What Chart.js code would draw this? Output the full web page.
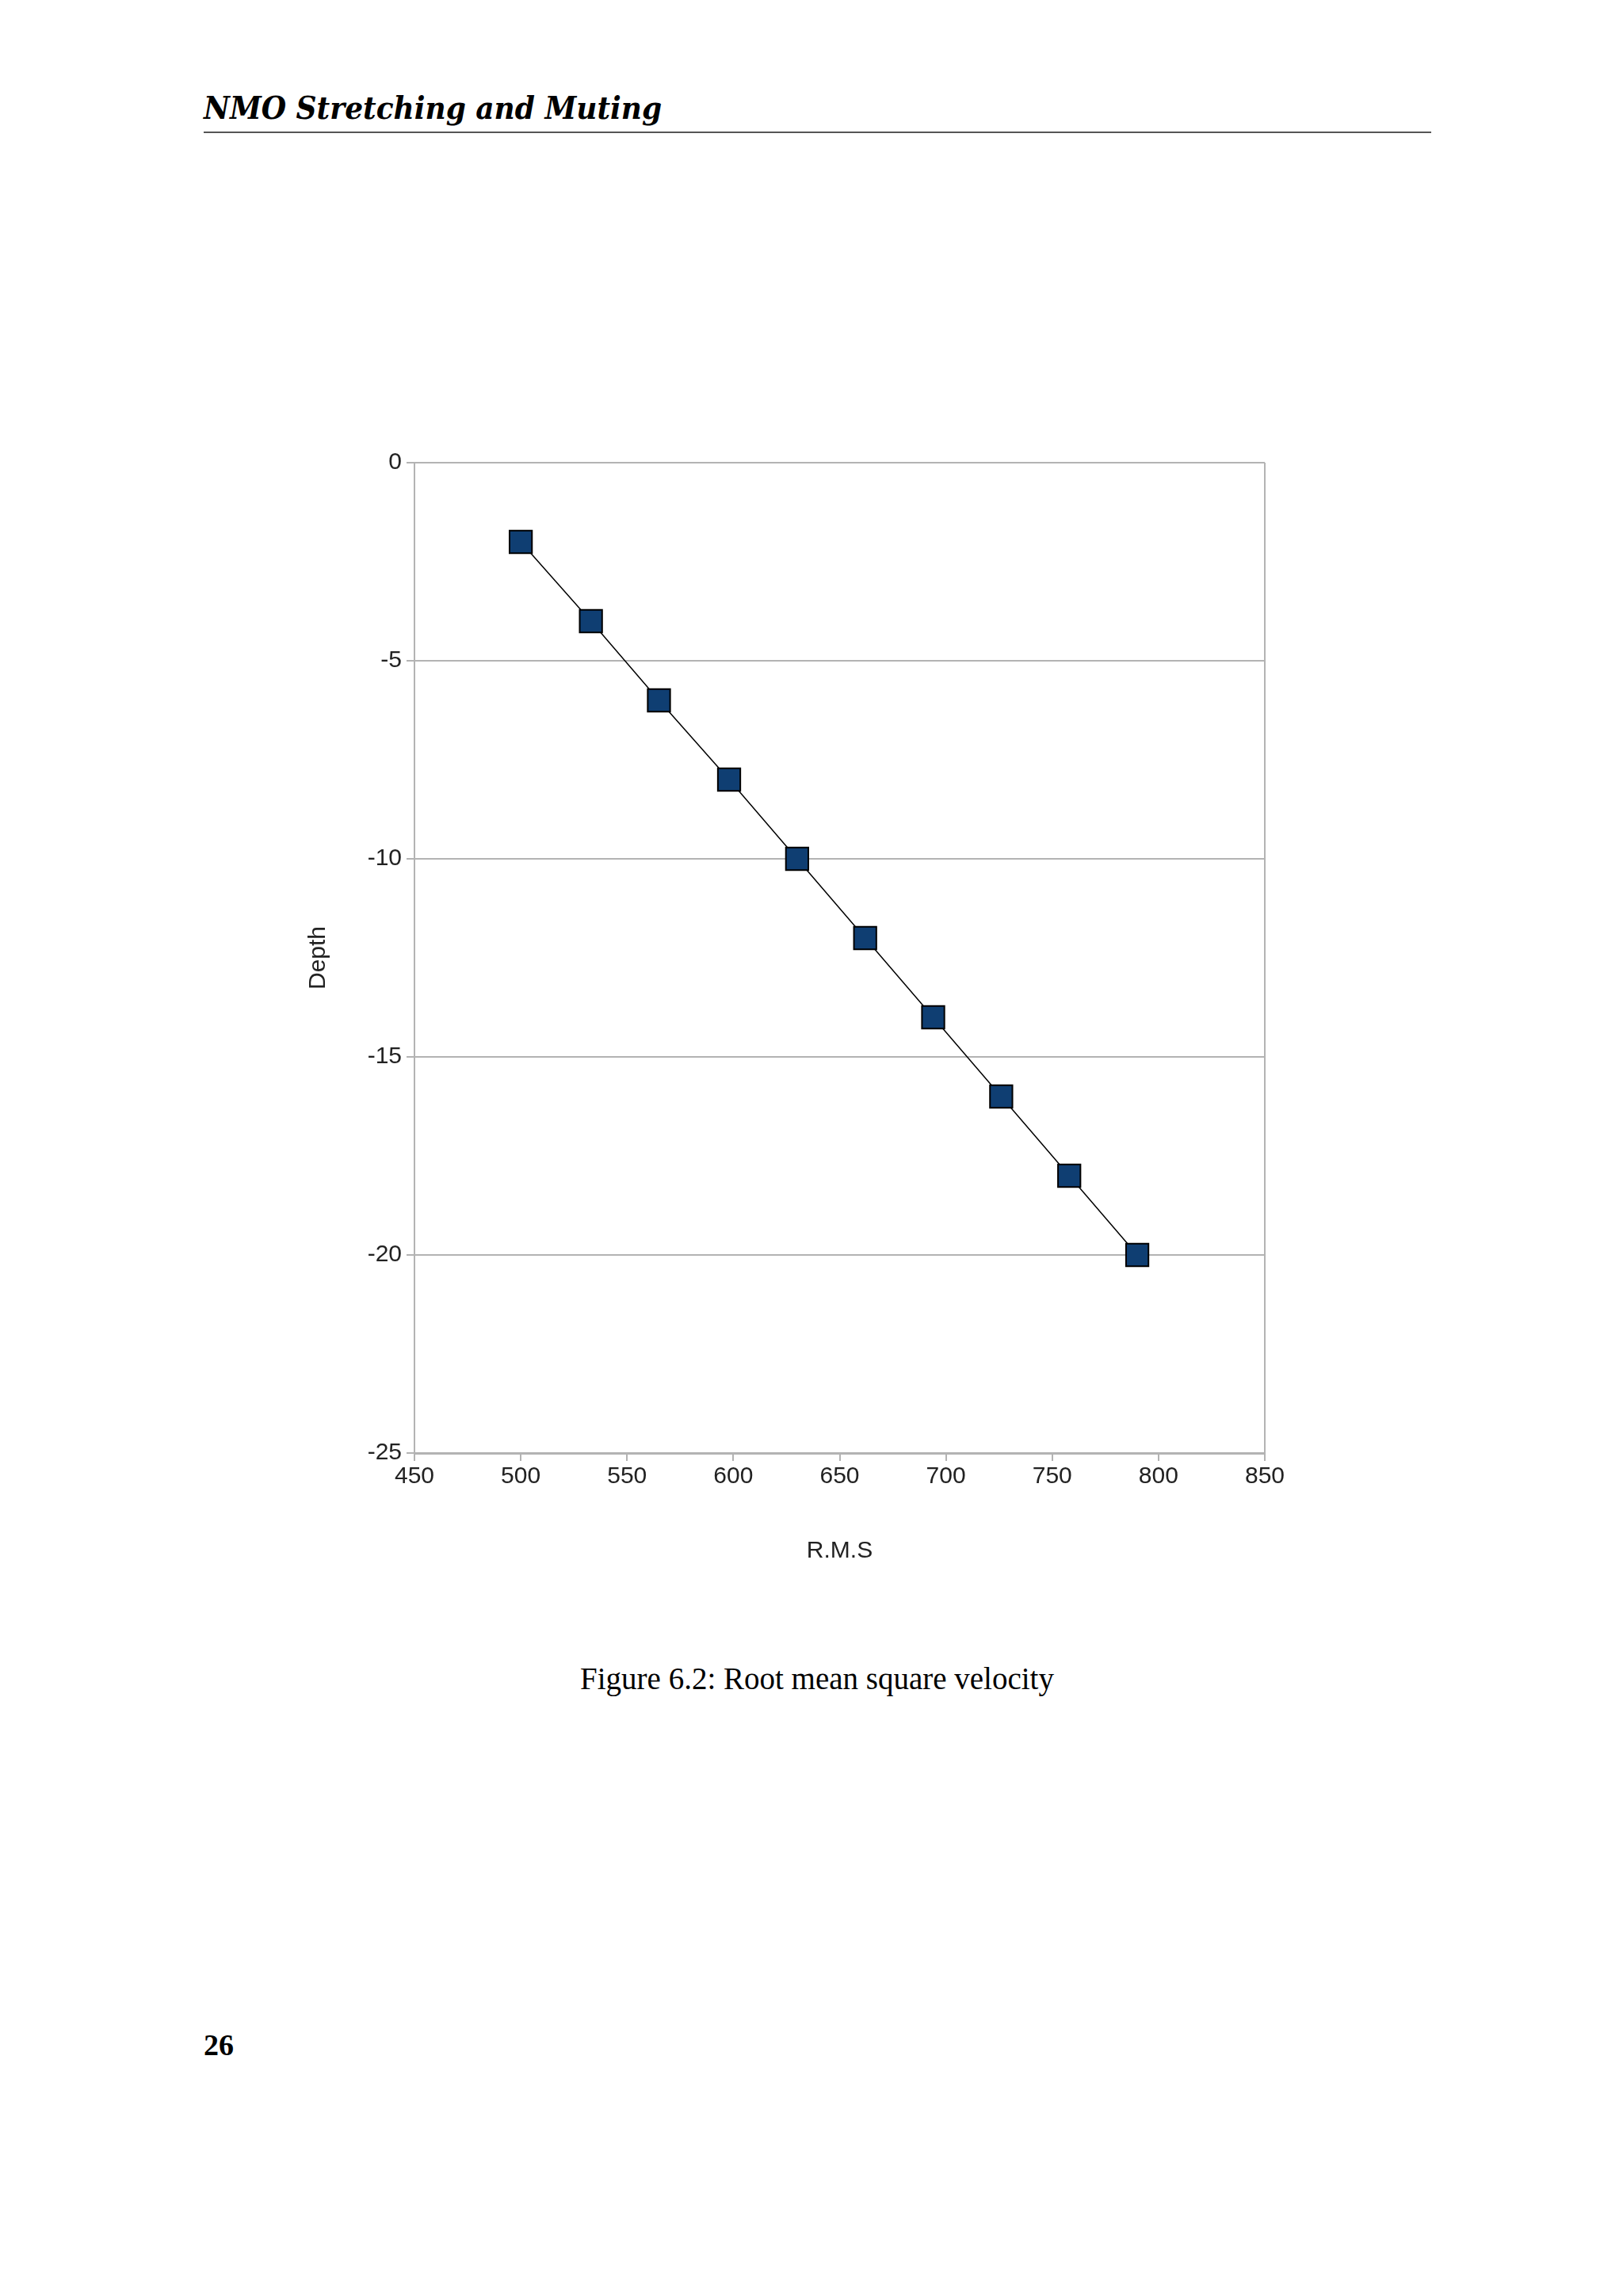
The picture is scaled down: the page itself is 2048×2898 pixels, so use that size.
<!DOCTYPE html>
<html>
<head>
<meta charset="utf-8">
<script src="https://cdn.jsdelivr.net/npm/chart.js@4.4.0/dist/chart.umd.min.js"></script>
<style>
  body { margin: 0; background: #fff; width: 2048px; height: 2898px; position: relative; font-family: "DejaVu Serif", serif; }
  .head { position: absolute; left: 257px; top: 112px; font-size: 40px; font-style: italic; font-weight: bold; font-family: "DejaVu Serif Condensed", "DejaVu Serif", serif; }
  .rule { position: absolute; left: 257px; top: 166px; width: 1549px; height: 2px; background: #555; }
  .cap { position: absolute; left: 0; width: 2062px; top: 2096px; text-align: center; font-size: 39px; font-family: "Liberation Serif", serif; }
  .page { position: absolute; left: 257px; top: 2559px; font-size: 38px; font-weight: bold; font-family: "Liberation Serif", serif; }
  #wrap { position: absolute; left: 380px; top: 540px; width: 1300px; height: 1440px; }
</style>
</head>
<body>
<div class="head">NMO Stretching and Muting</div>
<div class="rule"></div>
<div id="wrap"><canvas id="c"></canvas></div>
<div class="cap">Figure 6.2: Root mean square velocity</div>
<div class="page">26</div>
<script>
const rmsValues = [500, 533, 565, 598, 630, 662, 694, 726, 758, 790];
const depthValues = [-2, -4, -6, -8, -10, -12, -14, -16, -18, -20];

const points = rmsValues.map((x, i) => ({ x: x, y: depthValues[i] }));
const gridGrey = '#b3b3b3';
const tickFont = { family: 'Liberation Sans', size: 30 };

new Chart(document.getElementById('c'), {
  type: 'line',
  data: {
    datasets: [{
      data: points,
      borderColor: '#000',
      borderWidth: 1.5,
      pointStyle: 'rect',
      pointRadius: 20,
      pointBackgroundColor: '#0f3e72',
      pointBorderColor: '#000',
      pointBorderWidth: 2,
      tension: 0,
    }],
  },
  options: {
    responsive: true,
    maintainAspectRatio: false,
    animation: false,
    layout: { padding: { top: 44, right: 84 } },
    plugins: { legend: { display: false }, tooltip: { enabled: false } },
    scales: {
      x: {
        type: 'linear', min: 450, max: 850,
        ticks: { stepSize: 50, color: '#222', font: tickFont, padding: 2 },
        grid: {
          color: (c) => c.tick && c.tick.value === 850 ? gridGrey : 'rgba(0,0,0,0)',
          tickColor: gridGrey, tickLength: 10, lineWidth: 2,
        },
        border: { color: gridGrey, width: 3 },
        title: { display: true, text: 'R.M.S', color: '#222', font: tickFont, padding: { top: 0 } },
        afterFit: (s) => { s.height = 146; },
      },
      y: {
        type: 'linear', min: -25, max: 0,
        ticks: { stepSize: 5, color: '#222', font: tickFont, padding: 6 },
        grid: { color: gridGrey, tickColor: gridGrey, tickLength: 10, lineWidth: 2 },
        border: { color: gridGrey, width: 2 },
        title: { display: true, text: 'Depth', color: '#222', font: tickFont, padding: { bottom: 10 } },
        afterFit: (s) => { s.width = 143; },
      },
    },
  },
});
</script>
</body>
</html>
